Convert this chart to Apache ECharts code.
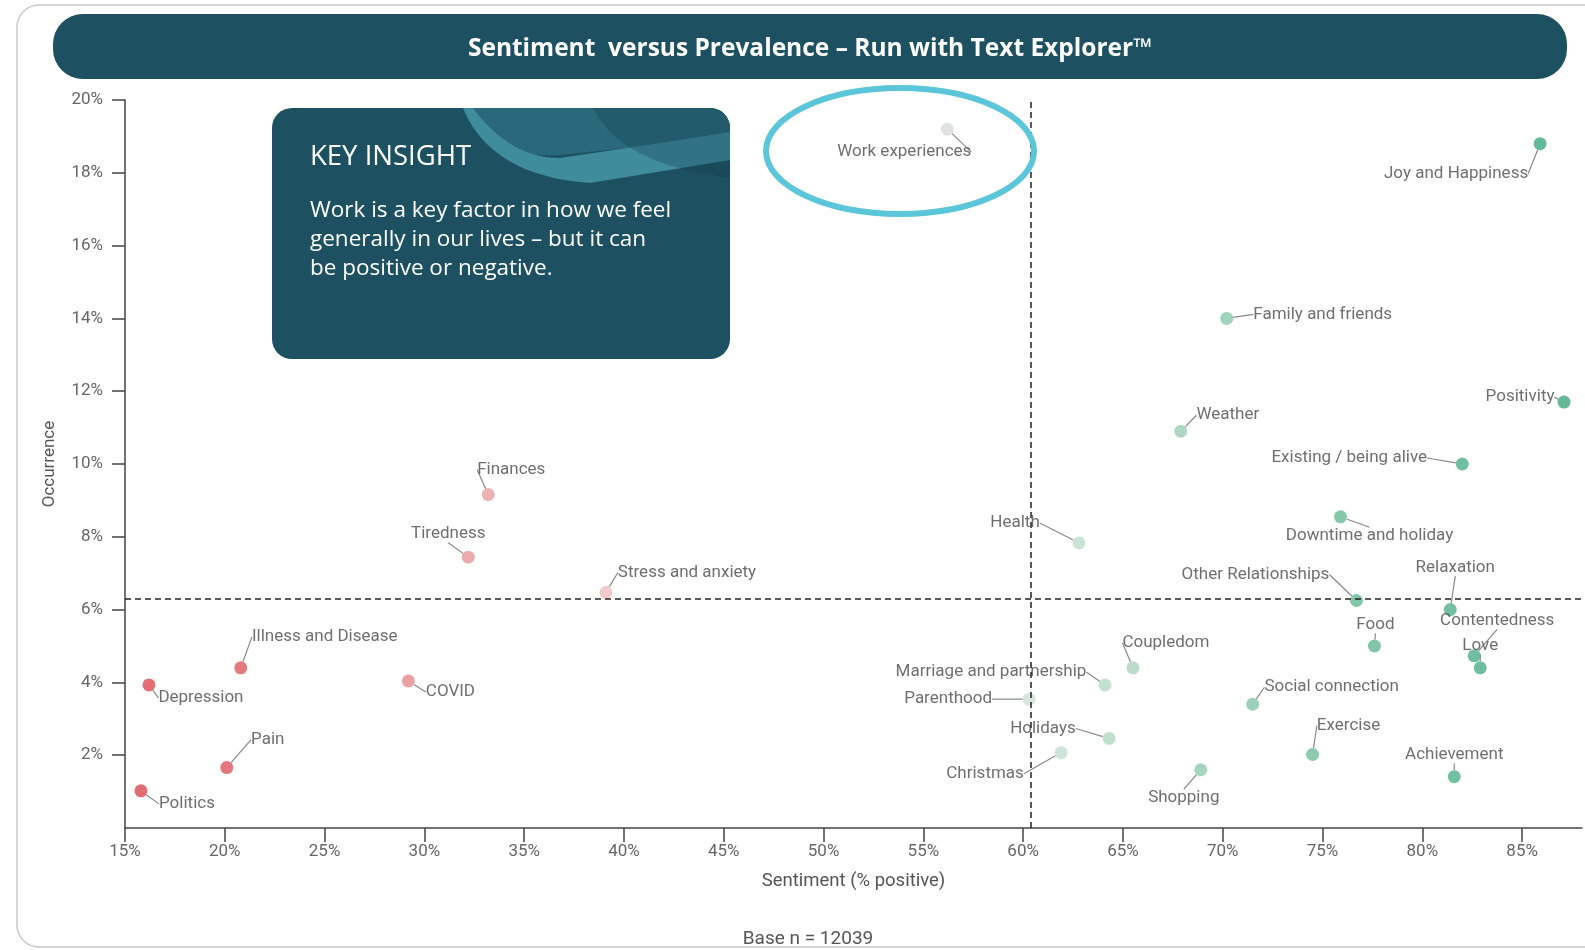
<!DOCTYPE html>
<html><head><meta charset="utf-8">
<script src="https://cdn.jsdelivr.net/npm/echarts@6/dist/echarts.min.js"></script>
<style>html,body{margin:0;padding:0;background:#fff}#c{width:1585px;height:950px}</style>
</head><body><div id="c"></div>
<script>
// ---- DATA ----
const topics = ["Work experiences","Joy and Happiness","Family and friends","Positivity","Weather",
  "Existing / being alive","Downtime and holiday","Health","Other Relationships","Relaxation",
  "Food","Contentedness","Love","Coupledom","Marriage and partnership","Parenthood",
  "Social connection","Holidays","Christmas","Exercise","Shopping","Achievement",
  "Finances","Tiredness","Stress and anxiety","Illness and Disease","COVID","Depression","Pain","Politics"];
const sentiment = [56.2,85.9,70.2,87.1,67.9,82.0,75.9,62.8,76.7,81.4,77.6,82.6,82.9,65.5,64.1,60.3,
  71.5,64.3,61.9,74.5,68.9,81.6,33.2,32.2,39.1,20.8,29.2,16.2,20.1,15.8];
const occurrence = [19.2,18.8,14.0,11.7,10.9,10.0,8.55,7.83,6.25,6.0,5.0,4.73,4.4,4.4,3.93,3.54,
  3.4,2.46,2.07,2.02,1.6,1.41,9.16,7.44,6.47,4.4,4.04,3.93,1.66,1.02];
const xMin = 15, xMax = 88, xStep = 5;
const yMin = 0, yMax = 20, yStep = 2;
const meanSentiment = 60.4;
const meanOccurrence = 6.3;
const baseN = 12039;
const chartTitle = "Sentiment  versus Prevalence \u2013 Run with Text Explorer\u2122";
const insightTitle = "KEY INSIGHT";
const insightText = "Work is a key factor in how we feel\ngenerally in our lives \u2013 but it can\nbe positive or negative.";

// ---- LAYOUT (label offsets from point, px) ----
const labelOffsets = {
  "Work experiences":[-43,23],"Joy and Happiness":[-84,30],"Family and friends":[96,-4],
  "Positivity":[-44,-5],"Weather":[47,-16],"Existing / being alive":[-113,-6],
  "Downtime and holiday":[29,19],"Health":[-64,-20],"Other Relationships":[-101,-26],
  "Relaxation":[5,-42],"Food":[1,-21],"Contentedness":[23,-35],"Love":[0,-22],
  "Coupledom":[33,-25],"Marriage and partnership":[-114,-13],"Parenthood":[-81,0],
  "Social connection":[79,-17],"Holidays":[-66,-10],"Christmas":[-76,21],"Exercise":[36,-29],
  "Shopping":[-17,28],"Achievement":[0,-22],"Finances":[23,-25],"Tiredness":[-20,-23],
  "Stress and anxiety":[81,-20],"Illness and Disease":[84,-31],"COVID":[42,11],
  "Depression":[52,13],"Pain":[41,-28],"Politics":[46,13]
};
const colorStops = [[15,'#dc5057'],[22,'#e0646a'],[30,'#e79597'],[34,'#eaa6a7'],[40,'#f1c5c5'],
  [56,'#dcdcdc'],[61,'#cde3d6'],[65,'#b0d8c3'],[70,'#90cbb0'],[76,'#6ebe9b'],[86,'#4aae87'],[90,'#45ab83']];
function hex2rgb(h){return [1,3,5].map(i=>parseInt(h.substr(i,2),16));}
function colorFor(v){
  for(let i=0;i<colorStops.length-1;i++){
    const [a,ca]=colorStops[i],[b,cb]=colorStops[i+1];
    if(v<=b){const t=Math.max(0,(v-a)/(b-a));const A=hex2rgb(ca),B=hex2rgb(cb);
      return 'rgb('+A.map((x,k)=>Math.round(x+(B[k]-x)*t)).join(',')+')';}
  }
  return colorStops[colorStops.length-1][1];
}
// decorative shape builder: segments are points or cubic beziers [p0,c1,c2,p1]
function shapePts(segs){
  const pts=[];
  segs.forEach(s=>{
    if(s.length===2&&typeof s[0]==='number'){pts.push(s);return;}
    const [p0,c1,c2,p1]=s;
    for(let i=0;i<=24;i++){const t=i/24,u=1-t;
      pts.push([u*u*u*p0[0]+3*u*u*t*c1[0]+3*u*t*t*c2[0]+t*t*t*p1[0],
                u*u*u*p0[1]+3*u*u*t*c1[1]+3*u*t*t*c2[1]+t*t*t*p1[1]]);}
  });
  return pts;
}
function cornerArc(cx,cy,r,a0,a1){const p=[];for(let i=0;i<=10;i++){const a=a0+(a1-a0)*i/10;p.push([cx+r*Math.cos(a),cy+r*Math.sin(a)]);}return p;}

const midShape = shapePts([[[473,108],[500,150],[525,157],[560,155]],[627,148],[730,132]]).concat(cornerArc(710,128,20,0,-Math.PI/2));
const bandShape = shapePts([[[463,108],[480,150],[520,178],[590,183]],[730,160],[730,132],[627,148],[[560,158],[540,158],[505,152],[473,108]]]);
const darkShape = shapePts([[[593,108],[615,150],[660,168],[730,178]]]).concat(cornerArc(710,128,20,0,-Math.PI/2));

const data = topics.map((n,i)=>({name:n,value:[sentiment[i],occurrence[i]]}));
const chart = echarts.init(document.getElementById('c'));
const darkTeal = '#1d5161';
const option = {
  animation:false,
  textStyle:{fontFamily:'Roboto'},
  grid:{left:125,right:3,top:100,bottom:122},
  xAxis:{type:'value',min:xMin,max:xMax,interval:xStep,
    name:'Sentiment (% positive)',nameLocation:'middle',nameGap:44,
    nameTextStyle:{fontSize:18.5,color:'#555',fontFamily:'Roboto'},
    axisLine:{show:true,lineStyle:{color:'#444',width:1.5}},
    axisTick:{show:true,length:14,lineStyle:{color:'#444',width:1.5}},
    axisLabel:{formatter:'{value}%',fontSize:17,color:'#666',margin:15,showMaxLabel:false},
    splitLine:{show:false}},
  yAxis:{type:'value',min:yMin,max:yMax,interval:yStep,
    name:'Occurrence',nameLocation:'middle',nameGap:67,
    nameTextStyle:{fontSize:17,color:'#555',fontFamily:'Roboto'},
    axisLine:{show:true,lineStyle:{color:'#444',width:1.5}},
    axisTick:{show:true,length:13,lineStyle:{color:'#444',width:1.5}},
    axisLabel:{formatter:'{value}%',fontSize:17,color:'#666',margin:22,showMinLabel:false},
    splitLine:{show:false}},
  series:[{
    type:'scatter',symbolSize:13,data:data,
    itemStyle:{opacity:0.85,color:p=>colorFor(p.value[0])},
    label:{show:true,formatter:'{b}',fontSize:17,color:'#555',fontFamily:'Roboto'},
    labelLine:{show:true,lineStyle:{color:'#888',width:1.2}},
    labelLayout:function(p){
      const o=labelOffsets[topics[p.dataIndex]]||[0,-20];
      return {x:p.rect.x+p.rect.width/2+o[0],y:p.rect.y+p.rect.height/2+o[1],align:'center',verticalAlign:'middle'};
    },
    markLine:{silent:true,symbol:'none',label:{show:false},
      lineStyle:{color:'#222',type:[6,4],width:1.5},
      data:[{xAxis:meanSentiment},{yAxis:meanOccurrence}]},
    z:3
  }],
  graphic:[
    {type:'rect',z:-10,shape:{x:17,y:5,width:1650,height:942,r:22},style:{fill:'none',stroke:'#c9c9c9',lineWidth:1.5}},
    {type:'rect',z:1,shape:{x:53,y:14,width:1514,height:65,r:30},style:{fill:darkTeal}},
    {type:'text',z:2,x:810,y:49,style:{text:chartTitle,fill:'#fff',font:'bold 24.5px "Open Sans"',textAlign:'center',textVerticalAlign:'middle'}},
    {type:'rect',z:10,shape:{x:272,y:108,width:458,height:251,r:20},style:{fill:darkTeal}},
    {type:'polygon',z:11,shape:{points:midShape},style:{fill:'#29697a'}},
    {type:'polygon',z:12,shape:{points:bandShape},style:{fill:'#3f8c9d'}},
    {type:'polygon',z:13,shape:{points:darkShape},style:{fill:'rgba(18,60,75,0.3)'}},
    {type:'text',z:14,x:310,y:157,style:{text:insightTitle,fill:'#fff',font:'27.5px "Open Sans"',textVerticalAlign:'middle'}},
    {type:'text',z:14,x:310,y:196,style:{text:insightText,fill:'#fff',font:'22.5px "Open Sans"',lineHeight:29}},
    {type:'ellipse',z:100,shape:{cx:900,cy:151,rx:134,ry:63},style:{fill:'none',stroke:'#5bc6d9',lineWidth:6}},
    {type:'text',z:2,x:808,y:939,style:{text:'Base n = '+baseN,fill:'#555',font:'19px Roboto',textAlign:'center',textVerticalAlign:'middle'}}
  ]
};
chart.setOption(option);
</script></body></html>
